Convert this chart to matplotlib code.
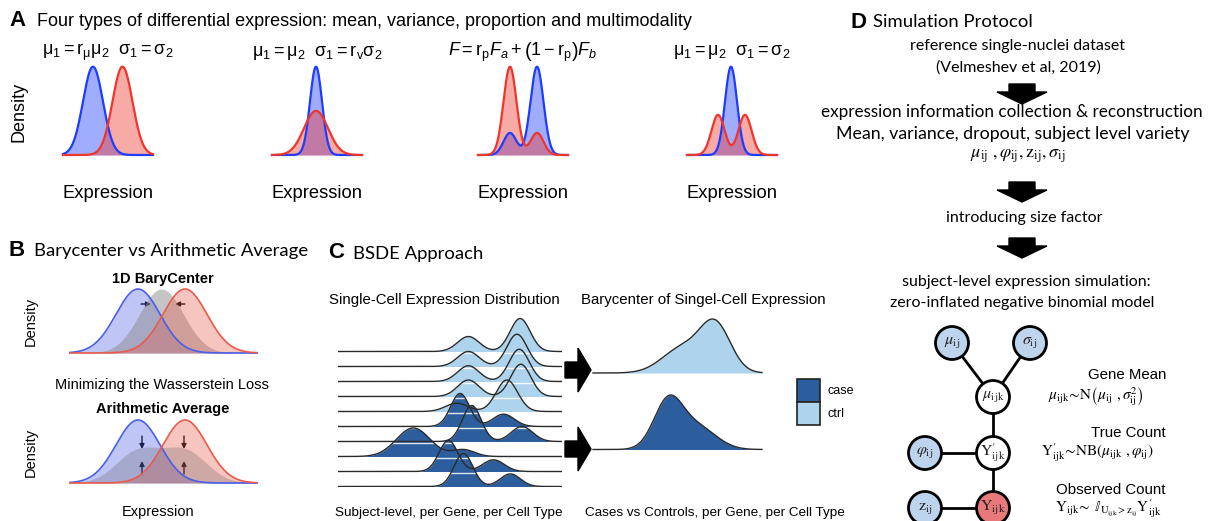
import numpy as np
import matplotlib.pyplot as plt
from matplotlib.patches import Circle, Polygon, Patch

plt.rcParams['font.family'] = ['Liberation Sans', 'DejaVu Sans']
plt.rcParams['mathtext.fontset'] = 'custom'
plt.rcParams['mathtext.rm'] = 'Liberation Sans'
plt.rcParams['mathtext.it'] = 'Liberation Sans:italic'
plt.rcParams['mathtext.bf'] = 'Liberation Sans:bold'

W, H = 1212, 521
BLUE, RED = '#1e3cff', '#f0352b'
B_BLUE, B_RED, B_GRAY = '#4a5ee8', '#ea5a4c', '#8c8c8c'
CASE, CTRL = '#2c5e9e', '#aed3ec'
NODE_BLUE, NODE_RED = '#bdd4ec', '#e8787a'
CAL = 'Lato'

# ---------------- data ----------------
# A: gaussian components (mean, sd, weight) of the two groups in each example
a_formulas = [r'$\mathrm{\mu}_1 = \mathrm{r}_\mathrm{\mu}\mathrm{\mu}_2\ \ \mathrm{\sigma}_1 = \mathrm{\sigma}_2$',
              r'$\mathrm{\mu}_1 = \mathrm{\mu}_2\ \ \mathrm{\sigma}_1 = \mathrm{r_v}\mathrm{\sigma}_2$',
              r'$F = \mathrm{r_p}F_a + \left(1 - \mathrm{r_p}\right)F_b$',
              r'$\mathrm{\mu}_1 = \mathrm{\mu}_2\ \ \mathrm{\sigma}_1 = \mathrm{\sigma}_2$']
a_blue = [[(30, 10, 1.0)],
          [(44, 6, 1.0)],
          [(32, 6.5, 0.2), (59, 6.5, 0.8)],
          [(44, 6, 1.0)]]
a_red = [[(59.5, 10, 1.0)],
         [(44, 12, 1.0)],
         [(32, 6.5, 0.8), (59, 6.5, 0.2)],
         [(31, 6.6, 0.5), (58, 6.6, 0.5)]]
a_left = [63, 272, 478, 687]

# B: two groups and their barycenter (mean, sd)
b_blue = (68, 22)
b_red = (115, 22)
b_bary = (91.5, 22)

# C: ridges, bumps as (mean, peak height in row units, sd)
ridge_group = ['ctrl'] * 5 + ['case'] * 5
ridge_bumps = [
    [(5.82, 1.0, 0.48), (8.13, 2.2, 0.45)],
    [(5.82, 1.0, 0.48), (7.99, 2.15, 0.45)],
    [(5.82, 1.05, 0.48), (8.09, 2.15, 0.45)],
    [(5.82, 1.1, 0.48), (8.16, 2.15, 0.45)],
    [(5.3, 0.55, 0.5), (7.54, 2.1, 0.48)],
    [(5.45, 2.2, 0.42), (7.39, 0.82, 0.48)],
    [(5.97, 2.4, 0.42), (8.21, 1.0, 0.48)],
    [(3.36, 1.9, 0.75), (5.6, 0.45, 0.5)],
    [(4.93, 2.07, 0.42), (6.94, 0.78, 0.48)],
    [(5.6, 2.2, 0.42), (7.69, 0.84, 0.45)],
]
bary_ctrl = [(5.3, 24, 1.2), (7.25, 45, 0.9)]
bary_case = [(4.45, 48, 0.85), (6.2, 22, 1.1)]

# D: graphical model
node_labels = [r'$\mu_{\mathrm{ij}}$', r'$\sigma_{\mathrm{ij}}$', r'$\mu_{\mathrm{ijk}}$',
               r'$\varphi_{\mathrm{ij}}$', r'$\mathrm{Y}^{\prime}_{\mathrm{ijk}}$',
               r'$\mathrm{z}_{\mathrm{ij}}$', r'$\mathrm{Y}_{\mathrm{ijk}}$']
node_xy = [(952, 343), (1030, 343), (993, 397), (925, 453), (993, 453), (925, 508), (993, 508)]
node_fill = [NODE_BLUE, NODE_BLUE, 'white', NODE_BLUE, 'white', NODE_BLUE, NODE_RED]
edges = [(0, 2), (1, 2), (2, 4), (3, 4), (4, 6), (5, 6)]


def pdf(x, comps):
    return sum(w * np.exp(-0.5 * ((x - m) / s) ** 2) / s for m, s, w in comps)


def bumps(x, comps):
    return sum(h * np.exp(-0.5 * ((x - m) / s) ** 2) for m, h, s in comps)


fig = plt.figure(figsize=(W / 100, H / 100), dpi=100)
ov = fig.add_axes([0, 0, 1, 1])
ov.set_xlim(0, W)
ov.set_ylim(H, 0)
ov.set_axis_off()


def px_axes(x0, y0, x1, y1):
    ax = fig.add_axes([x0 / W, 1 - y1 / H, (x1 - x0) / W, (y1 - y0) / H])
    ax.set_axis_off()
    return ax


# ---------------- panel A ----------------
ov.text(9, 20, 'A', fontsize=16, fontweight='bold', va='center')
ov.text(37, 21, 'Four types of differential expression: mean, variance, proportion and multimodality',
        fontsize=13, va='center')
ov.text(19, 112, 'Density', rotation=90, fontsize=13, ha='center', va='center')
x = np.linspace(0, 90, 500)
for i in range(4):
    ax = px_axes(a_left[i], 66.7, a_left[i] + 90, 155)
    yb, yr = pdf(x, a_blue[i]), pdf(x, a_red[i])
    for y, c in [(yb, BLUE), (yr, RED)]:
        ax.fill_between(x, y, color=c, alpha=0.42, lw=0)
        ax.plot(x, y, color=c, lw=1.6, clip_on=False)
    ax.set_xlim(0, 90)
    ax.set_ylim(0, max(yb.max(), yr.max()))
    ov.text(a_left[i] + 45, 52, a_formulas[i], fontsize=13, ha='center', va='center')
    ov.text(a_left[i] + 45, 193, 'Expression', fontsize=13.2, ha='center', va='center')

# ---------------- panel B ----------------
ov.text(9, 250, 'B', fontsize=16, fontweight='bold', va='center')
ov.text(34, 251, 'Barycenter vs Arithmetic Average', family=CAL, fontsize=13.3, va='center')
ov.text(163, 279, '1D BaryCenter', fontsize=10.5, fontweight='bold', ha='center', va='center')
ov.text(162, 385, 'Minimizing the Wasserstein Loss', fontsize=10.5, ha='center', va='center')
ov.text(163, 409, 'Arithmetic Average', fontsize=10.5, fontweight='bold', ha='center', va='center')
ov.text(31, 321, 'Density', rotation=90, fontsize=10.5, ha='center', va='center')
ov.text(31, 452, 'Density', rotation=90, fontsize=10.5, ha='center', va='center')
ov.text(158, 512, 'Expression', fontsize=10.5, ha='center', va='center')

xb = np.linspace(0, 187, 500)
yb = pdf(xb, [b_blue + (1,)])
yr = pdf(xb, [b_red + (1,)])
yg = pdf(xb, [b_bary + (1,)])

ax = px_axes(70, 289, 257, 353)
ax.fill_between(xb, yb, color=B_BLUE, alpha=0.35, lw=0)
ax.fill_between(xb, yg, color=B_GRAY, alpha=0.5, lw=0)
ax.fill_between(xb, yr, color=B_RED, alpha=0.35, lw=0)
ax.plot(xb, yb, color=B_BLUE, lw=1.2, clip_on=False)
ax.plot(xb, yr, color=B_RED, lw=1.2, clip_on=False)
ax.set_xlim(0, 187)
ax.set_ylim(0, yb.max())

ax = px_axes(70, 420, 257, 483)
ya = (yb + yr) / 2
ax.fill_between(xb, yb, color=B_BLUE, alpha=0.35, lw=0)
ax.fill_between(xb, yr, color=B_RED, alpha=0.35, lw=0)
ax.fill_between(xb, ya, color='#555555', alpha=0.25, lw=0)
ax.plot(xb, yb, color=B_BLUE, lw=1.2, clip_on=False)
ax.plot(xb, yr, color=B_RED, lw=1.2, clip_on=False)
ax.set_xlim(0, 187)
ax.set_ylim(0, yb.max())

arw = dict(arrowstyle='-|>', lw=1.0, color='black', mutation_scale=7, shrinkA=0, shrinkB=0)
ov.annotate('', xy=(151, 304), xytext=(141, 304), arrowprops=arw)
ov.annotate('', xy=(175, 304), xytext=(185, 304), arrowprops=arw)
for xa in (142, 184):
    ov.annotate('', xy=(xa, 449), xytext=(xa, 436), arrowprops=arw)
    ov.annotate('', xy=(xa, 461), xytext=(xa, 474), arrowprops=arw)

# ---------------- panel C ----------------
ov.text(328, 253, 'C', fontsize=16, fontweight='bold', va='center')
ov.text(353, 254, 'BSDE Approach', family=CAL, fontsize=13.3, va='center')
ov.text(444, 300, 'Single-Cell Expression Distribution', fontsize=10.8, ha='center', va='center')
ov.text(449, 513, 'Subject-level, per Gene, per Cell Type', fontsize=9.7, ha='center', va='center')
ov.text(703, 300, 'Barycenter of Singel-Cell Expression', fontsize=10.8, ha='center', va='center')
ov.text(715, 513, 'Cases vs Controls, per Gene, per Cell Type', fontsize=9.7, ha='center', va='center')

ax = px_axes(338, 314, 562, 486.5)
xr = np.linspace(0, 10, 600)
n = len(ridge_bumps)
for i, comps in enumerate(ridge_bumps):
    base = n - 1 - i
    y = base + bumps(xr, comps)
    col = CTRL if ridge_group[i] == 'ctrl' else CASE
    ax.fill_between(xr, base, y, color=col, lw=0, zorder=2 + i)
    ax.plot(xr, y, color='#2a2a2a', lw=1.0, zorder=40 + i)
    if i < n - 1:
        ax.hlines(base - 0.12, 0, 10, color='white', lw=1.0, alpha=0.85, zorder=30)
ax.set_xlim(0, 10)
ax.set_ylim(0, 11.5)

for yc in (370, 449):
    ov.add_patch(Polygon([(565, yc - 8), (578, yc - 8), (578, yc - 22), (591, yc),
                          (578, yc + 22), (578, yc + 8), (565, yc + 8)], color='black'))

xc = np.linspace(0, 10, 400)
for comps, col, top, bot in [(bary_ctrl, CTRL, 319, 373), (bary_case, CASE, 395, 449.5)]:
    ax = px_axes(593, top, 762, bot)
    y = bumps(xc, comps)
    ax.fill_between(xc, y, color=col, lw=0)
    ax.plot(xc, y, color='#2a2a2a', lw=1.0, clip_on=False)
    ax.set_xlim(0, 10)
    ax.set_ylim(0, y.max())

handles = [Patch(facecolor=CASE, edgecolor='#222222', lw=1.2),
           Patch(facecolor=CTRL, edgecolor='#222222', lw=1.2)]
fig.legend(handles, ['case', 'ctrl'], loc='upper left', bbox_to_anchor=(797 / W, 1 - 379 / H),
           frameon=False, fontsize=9, handlelength=1.84, handleheight=2.45, labelspacing=0,
           handletextpad=0.6, borderpad=0, borderaxespad=0)

# ---------------- panel D ----------------
ov.text(851, 22, 'D', fontsize=16, fontweight='bold', va='center')
ov.text(873, 22, 'Simulation Protocol', family=CAL, fontsize=13.3, va='center')
for txt, xx, yy, fs in [('reference single-nuclei dataset', 1018, 46, 11.5),
                        ('(Velmeshev et al, 2019)', 1018, 68, 11.5),
                        ('expression information collection & reconstruction', 1012, 112, 12.3),
                        ('Mean, variance, dropout, subject level variety', 1013, 134, 12.8),
                        ('introducing size factor', 1024, 218, 11.5),
                        ('subject-level expression simulation:', 1026, 282, 11.5),
                        ('zero-inflated negative binomial model', 1022, 303, 11.5)]:
    ov.text(xx, yy, txt, family=CAL, fontsize=fs, ha='center', va='center')
ov.text(1018, 156, r'$\mu_{\mathrm{ij}}\ ,\varphi_{\mathrm{ij}},\mathrm{z}_{\mathrm{ij}},\sigma_{\mathrm{ij}}$',
        math_fontfamily='stix', fontsize=13, ha='center', va='center')

for top in (84, 182, 238):
    ov.add_patch(Polygon([(1009, top), (1035, top), (1035, top + 8), (1047, top + 8), (1022, top + 20),
                          (997, top + 8), (1009, top + 8)], color='black'))

for a, b in edges:
    ov.plot([node_xy[a][0], node_xy[b][0]], [node_xy[a][1], node_xy[b][1]], color='black', lw=2, zorder=1)
for lab, (cx, cy), fc in zip(node_labels, node_xy, node_fill):
    ov.add_patch(Circle((cx, cy), 16.5, facecolor=fc, edgecolor='black', lw=2, zorder=2))
    ov.text(cx, cy, lab, math_fontfamily='stix', fontsize=11.5, ha='center', va='center', zorder=3,
            color='#222222')

ov.text(1166, 375, 'Gene Mean', fontsize=10.8, ha='right', va='center')
ov.text(1096, 397, r'$\mu_{\mathrm{ijk}}\!\sim\!\mathrm{N}\left(\mu_{\mathrm{ij}}\ ,\sigma^2_{\mathrm{ij}}\right)$',
        math_fontfamily='stix', fontsize=11, ha='center', va='center')
ov.text(1166, 433, 'True Count', fontsize=10.8, ha='right', va='center')
ov.text(1097, 453, r'$\mathrm{Y}^{\prime}_{\mathrm{ijk}}\!\sim\!\mathrm{NB}(\mu_{\mathrm{ijk}}\ ,\varphi_{\mathrm{ij}})$',
        math_fontfamily='stix', fontsize=11, ha='center', va='center')
ov.text(1166, 490, 'Observed Count', fontsize=10.8, ha='right', va='center')
ov.text(1108, 509, r'$\mathrm{Y}_{\mathrm{ijk}}\!\sim\ \mathbb{I}_{\mathrm{U}_{\mathrm{ijk}}>\mathrm{z}_{\mathrm{ij}}}\mathrm{Y}^{\prime}_{\mathrm{ijk}}$',
        math_fontfamily='stix', fontsize=11, ha='center', va='center')

fig.savefig('out.png', dpi=100)
